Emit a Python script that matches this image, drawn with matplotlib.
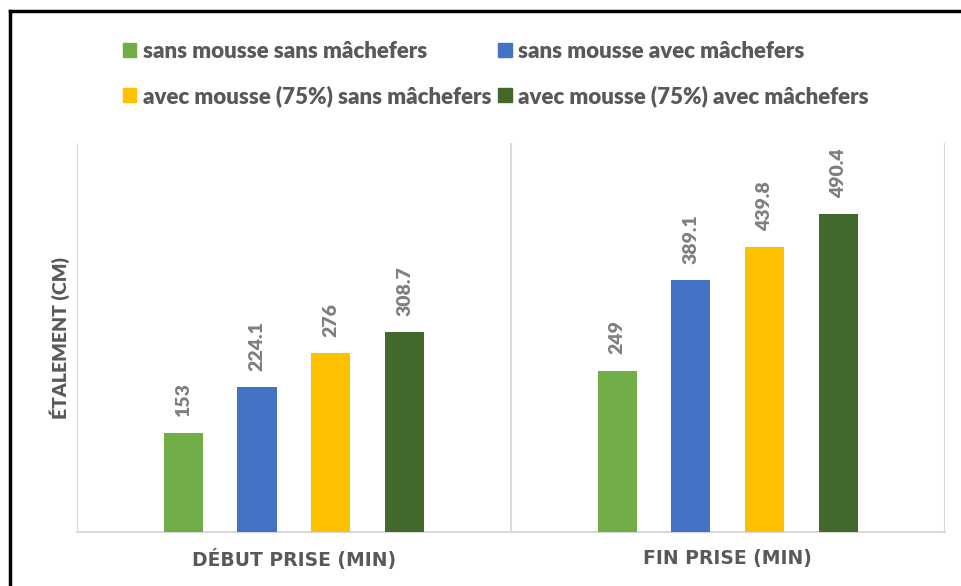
import numpy as np
import matplotlib.pyplot as plt
from matplotlib.patches import Patch
from matplotlib.lines import Line2D

plt.rcParams['font.family'] = ['Lato', 'DejaVu Sans']

categories = ['DÉBUT PRISE (MIN)', 'FIN PRISE (MIN)']
series = ['sans mousse sans mâchefers', 'sans mousse avec mâchefers',
          'avec mousse (75%) sans mâchefers', 'avec mousse (75%) avec mâchefers']
values = [
    [153, 249],
    [224.1, 389.1],
    [276, 439.8],
    [308.7, 490.4],
]
colors = ['#70AD47', '#4472C4', '#FFC000', '#43682B']

fig = plt.figure(figsize=(9.62, 5.86), dpi=100)
ax = fig.add_axes([0.080, 0.092, 0.902, 0.664])

x = np.arange(len(categories))
step = 0.17
width = 0.09
for i, (name, vals) in enumerate(zip(series, values)):
    pos = x + (i - 1.5) * step
    bars = ax.bar(pos, vals, width, color=colors[i], label=name, zorder=3)
    for b, v in zip(bars, vals):
        ax.text(b.get_x() + b.get_width() / 2, v + 25, f'{v:g}',
                rotation=90, ha='center', va='bottom',
                fontsize=14, fontweight='heavy', color='#7F7F7F')

ax.set_xlim(-0.5, 1.5)
ax.set_ylim(0, 600)
for b in [-0.5, 0.5, 1.5]:
    ax.axvline(b, color='#D9D9D9', lw=1.5, zorder=1)

for s in ['top', 'left', 'right']:
    ax.spines[s].set_visible(False)
ax.spines['bottom'].set_color('#D9D9D9')
ax.spines['bottom'].set_linewidth(1.5)
ax.set_yticks([])
ax.set_xticks(x)
ax.set_xticklabels(categories, fontsize=13.5, fontweight='bold', color='#595959',
                   family='DejaVu Sans')
ax.tick_params(axis='x', length=0, pad=12)

# y title, placed just left of the plot area
ax.text(-0.0196, 0.5, 'ÉTALEMENT (CM)', transform=ax.transAxes, rotation=90,
        ha='center', va='center', fontsize=14, fontweight='heavy',
        color='#595959')

# legend, two rows of two
h = [Patch(color=c) for c in colors]
order = [0, 2, 1, 3]
fig.legend([h[k] for k in order], [series[k] for k in order], ncol=2,
           loc='upper left', bbox_to_anchor=(103 / 962, 1 - 21 / 586),
           frameon=False, handlelength=0.6, handleheight=0.6,
           handletextpad=0.3, columnspacing=0.3, labelspacing=1.05,
           prop={'weight': 'heavy', 'size': 16})
for t in fig.legends[0].get_texts():
    t.set_color('#595959')

# black frame on the left and top
fig.add_artist(Line2D([10 / 962, 10 / 962], [0, 1 - 11 / 586], color='black',
                      lw=2.5, transform=fig.transFigure))
fig.add_artist(Line2D([10 / 962, 1], [1 - 11 / 586, 1 - 11 / 586], color='black',
                      lw=2.5, transform=fig.transFigure))

fig.savefig('out.png', dpi=100)
